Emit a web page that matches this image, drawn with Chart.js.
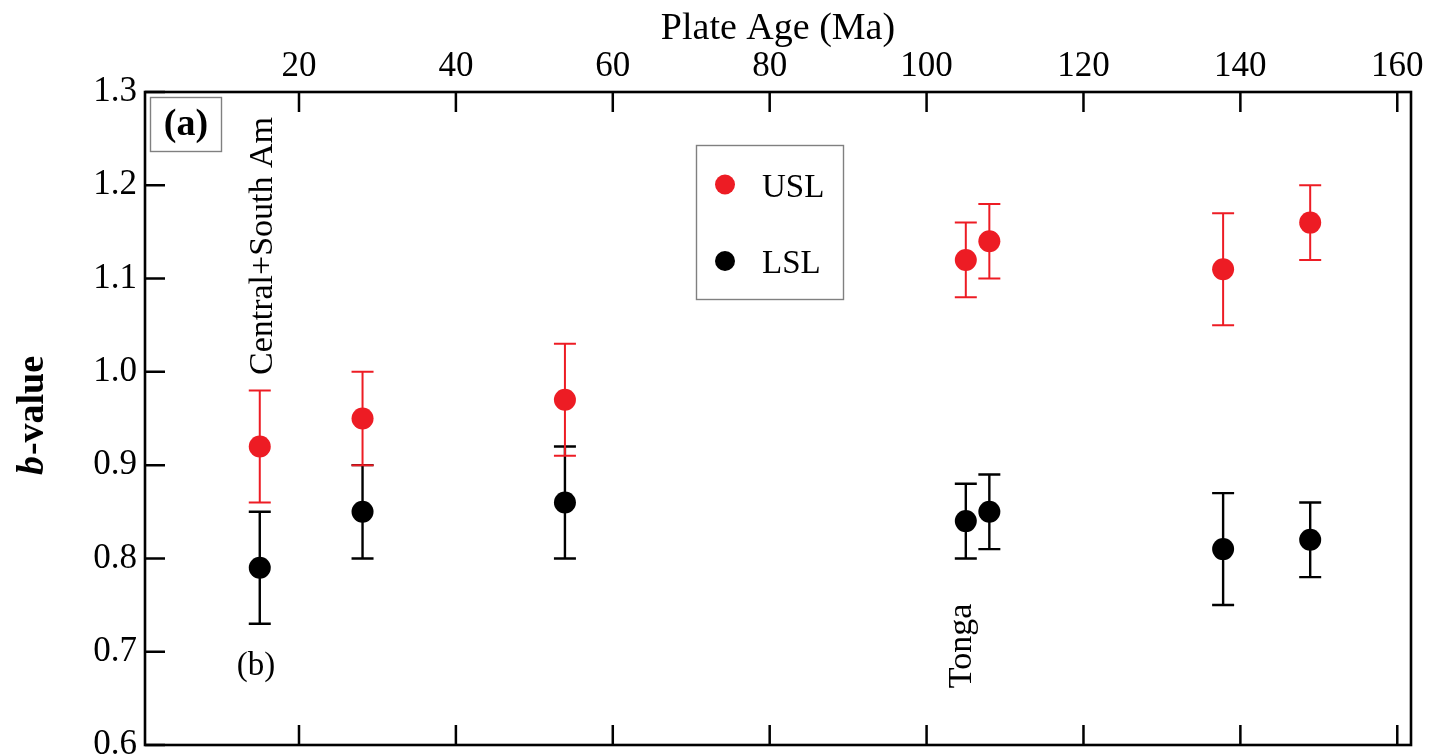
<!DOCTYPE html>
<html><head><meta charset="utf-8">
<script src="https://cdn.jsdelivr.net/npm/chart.js@4.4.1/dist/chart.umd.min.js"></script>
<style>html,body{margin:0;padding:0;background:#fff;overflow:hidden}canvas{display:block}</style>
</head><body>
<canvas id="c" width="1429" height="756"></canvas>
<script>
// ---- data ----
const plateAge = [15.0, 28.1, 53.9, 105.0, 108.0, 137.8, 148.9];
const uslB     = [0.92, 0.95, 0.97, 1.12, 1.14, 1.11, 1.16];
const uslErr   = [0.06, 0.05, 0.06, 0.04, 0.04, 0.06, 0.04];
const lslB     = [0.79, 0.85, 0.86, 0.84, 0.85, 0.81, 0.82];
const lslErr   = [0.06, 0.05, 0.06, 0.04, 0.04, 0.06, 0.04];
const xTicks   = [20, 40, 60, 80, 100, 120, 140, 160];
const yTicks   = [0.6, 0.7, 0.8, 0.9, 1.0, 1.1, 1.2, 1.3];
const seriesNames = ['USL', 'LSL'];
const xTitle = 'Plate Age (Ma)';
const yTitleItalic = 'b';
const yTitleRest = '-value';
const panelLabel = '(a)';
const notes = ['Central+South Am', '(b)', 'Tonga'];

const RED = '#ed1c24', BLACK = '#000000';
const SERIF = '"Liberation Serif", "Times New Roman", serif';

Chart.defaults.font.family = SERIF;
Chart.defaults.color = '#000';

const errorBars = {
  id: 'errorBars',
  beforeDatasetsDraw(chart) {
    const ctx = chart.ctx, xs = chart.scales.x, ys = chart.scales.y;
    const order = [1, 0];
    order.forEach(di => {
      const ds = chart.data.datasets[di];
      ctx.save();
      ctx.strokeStyle = ds.borderColor;
      ctx.lineWidth = di === 0 ? 2 : 2.4;
      ds.data.forEach((p, i) => {
        const x = xs.getPixelForValue(p.x);
        const y1 = ys.getPixelForValue(p.y - ds.err[i]);
        const y2 = ys.getPixelForValue(p.y + ds.err[i]);
        const hw = 11;
        ctx.beginPath();
        ctx.moveTo(x, y1); ctx.lineTo(x, y2);
        ctx.moveTo(x - hw, y1); ctx.lineTo(x + hw, y1);
        ctx.moveTo(x - hw, y2); ctx.lineTo(x + hw, y2);
        ctx.stroke();
      });
      ctx.restore();
    });
  }
};

const frame = {
  id: 'frame',
  afterDatasetsDraw(chart) {
    const ctx = chart.ctx, a = chart.chartArea, xs = chart.scales.x, ys = chart.scales.y;
    ctx.save();
    ctx.strokeStyle = '#000';
    ctx.lineWidth = 2.6;
    ctx.strokeRect(a.left, a.top, a.right - a.left, a.bottom - a.top);
    ctx.lineWidth = 2.5;
    ctx.beginPath();
    xTicks.forEach(v => {
      const x = xs.getPixelForValue(v);
      ctx.moveTo(x, a.top); ctx.lineTo(x, a.top + 20);
      ctx.moveTo(x, a.bottom); ctx.lineTo(x, a.bottom - 20);
    });
    yTicks.forEach(v => {
      const y = ys.getPixelForValue(v);
      ctx.moveTo(a.left, y); ctx.lineTo(a.left + 20, y);
    });
    ctx.stroke();
    ctx.restore();
  }
};

const texts = {
  id: 'texts',
  afterDraw(chart) {
    const ctx = chart.ctx, a = chart.chartArea;
    ctx.save();
    ctx.fillStyle = '#000';

    // y axis title with italic b
    ctx.save();
    ctx.translate(43, 416);
    ctx.rotate(-Math.PI / 2);
    const f1 = 'italic bold 38px ' + SERIF, f2 = 'bold 38px ' + SERIF;
    ctx.font = f1; const w1 = ctx.measureText(yTitleItalic).width;
    ctx.font = f2; const w2 = ctx.measureText(yTitleRest).width;
    let sx = -(w1 + w2) / 2;
    ctx.textAlign = 'left'; ctx.textBaseline = 'alphabetic';
    ctx.font = f1; ctx.fillText(yTitleItalic, sx, 0);
    ctx.font = f2; ctx.fillText(yTitleRest, sx + w1 + 1, 0);
    ctx.restore();

    // panel label (a)
    ctx.strokeStyle = '#808080';
    ctx.lineWidth = 1.4;
    ctx.strokeRect(a.left + 5.5, a.top + 5.5, 71, 54);
    ctx.font = 'bold 38px ' + SERIF;
    ctx.textAlign = 'center'; ctx.textBaseline = 'middle';
    ctx.fillText(panelLabel, a.left + 41, a.top + 33);

    // rotated notes
    ctx.font = '34px ' + SERIF;
    ctx.save();
    ctx.translate(272, 246);
    ctx.rotate(-Math.PI / 2);
    ctx.textAlign = 'center'; ctx.textBaseline = 'alphabetic';
    ctx.fillText(notes[0], 0, 0);
    ctx.restore();

    ctx.save();
    ctx.translate(971, 646);
    ctx.rotate(-Math.PI / 2);
    ctx.textAlign = 'center'; ctx.textBaseline = 'alphabetic';
    ctx.fillText(notes[2], 0, 0);
    ctx.restore();

    ctx.font = '33px ' + SERIF;
    ctx.textAlign = 'center'; ctx.textBaseline = 'middle';
    ctx.fillText(notes[1], 256, 666);

    // legend
    ctx.strokeStyle = '#808080';
    ctx.lineWidth = 1.4;
    ctx.strokeRect(696.5, 145.5, 147, 154);
    const leg = [[RED, 184.5, 196.7], [BLACK, 261, 273]];
    leg.forEach((l, i) => {
      ctx.fillStyle = l[0];
      ctx.beginPath(); ctx.arc(725, l[1], 10, 0, Math.PI * 2); ctx.fill();
      ctx.fillStyle = '#000';
      ctx.font = '33px ' + SERIF;
      ctx.textAlign = 'left'; ctx.textBaseline = 'alphabetic';
      ctx.fillText(seriesNames[i], 762, l[2]);
    });
    ctx.restore();
  }
};

function zeroPad(s) { s.paddingTop = 0; s.paddingBottom = 0; s.paddingLeft = 0; s.paddingRight = 0; }

new Chart(document.getElementById('c'), {
  type: 'scatter',
  data: {
    datasets: [
      { label: seriesNames[0], data: plateAge.map((x, i) => ({x, y: uslB[i]})), err: uslErr,
        backgroundColor: RED, borderColor: RED, pointRadius: 11, pointBorderWidth: 0, pointHoverRadius: 11 },
      { label: seriesNames[1], data: plateAge.map((x, i) => ({x, y: lslB[i]})), err: lslErr,
        backgroundColor: BLACK, borderColor: BLACK, pointRadius: 11, pointBorderWidth: 0, pointHoverRadius: 11 }
    ]
  },
  options: {
    responsive: false,
    animation: false,
    devicePixelRatio: 1,
    layout: { padding: { left: 0, right: 18, top: 0, bottom: 11 } },
    plugins: { legend: { display: false }, tooltip: { enabled: false } },
    scales: {
      x: {
        type: 'linear', position: 'top', min: 0.37, max: 161.75,
        grid: { display: false, drawTicks: false },
        border: { display: false },
        ticks: { font: { size: 35 }, color: '#000', padding: 4, maxRotation: 0 },
        title: { display: true, text: xTitle, font: { size: 38 }, color: '#000', padding: { top: 6, bottom: 0 } },
        afterBuildTicks: s => { s.ticks = xTicks.map(v => ({ value: v })); },
        afterFit: s => { s.height = 92; zeroPad(s); }
      },
      y: {
        type: 'linear', position: 'left', min: 0.6, max: 1.3,
        grid: { display: false, drawTicks: false },
        border: { display: false },
        ticks: { font: { size: 35 }, color: '#000', padding: 8, callback: v => Number(v).toFixed(1) },
        afterBuildTicks: s => { s.ticks = yTicks.map(v => ({ value: v })); },
        afterFit: s => { s.width = 145; zeroPad(s); }
      }
    }
  },
  plugins: [errorBars, frame, texts]
});
</script>
</body></html>
